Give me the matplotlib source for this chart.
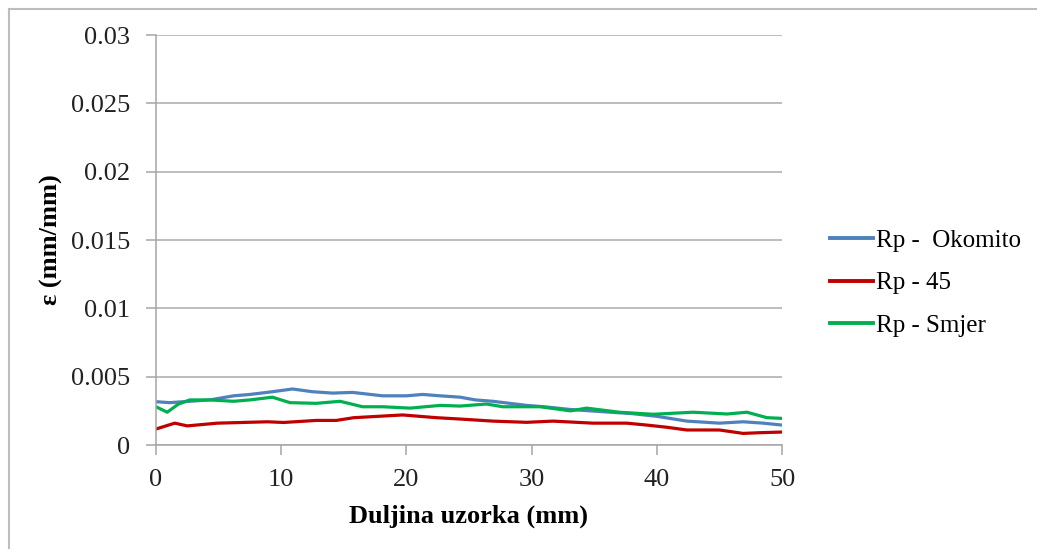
import matplotlib
matplotlib.use("Agg")
import matplotlib.pyplot as plt
from matplotlib.lines import Line2D

plt.rcParams['font.family'] = ['Liberation Serif', 'DejaVu Serif']

labels = ["Rp -  Okomito", "Rp - 45", "Rp - Smjer"]
colors = ["#4F81BD", "#C00000", "#00B050"]

x_okomito = [0, 1.1, 2.7, 4.3, 6.2, 7.5, 9.3, 10.9, 12.5, 14.1, 15.7, 18.1, 20, 21.3, 22.7,
             24.3, 25.5, 26.9, 29.6, 31, 33.1, 36.3, 38, 40, 42.4, 45, 46.9, 48.5, 50]
y_okomito = [0.00317, 0.0031, 0.0032, 0.0033, 0.0036, 0.0037, 0.0039, 0.0041, 0.0039, 0.0038,
             0.00385, 0.0036, 0.0036, 0.0037, 0.0036, 0.0035, 0.0033, 0.0032, 0.0029, 0.0028,
             0.0026, 0.0024, 0.0023, 0.0021, 0.00175, 0.0016, 0.0017, 0.0016, 0.00146]

x_45 = [0, 1.5, 2.5, 4.9, 8.9, 10.2, 12.8, 14.4, 15.8, 19.7, 22.4, 24.3, 26.9, 29.6, 31.7,
        34.9, 37.6, 39.2, 40.8, 42.4, 45, 46.9, 48.2, 50]
y_45 = [0.00117, 0.0016, 0.0014, 0.0016, 0.0017, 0.00165, 0.0018, 0.0018, 0.002, 0.0022,
        0.002, 0.0019, 0.00175, 0.00166, 0.00175, 0.0016, 0.0016, 0.00146, 0.0013, 0.0011,
        0.0011, 0.00085, 0.0009, 0.00095]

x_smjer = [0, 0.9, 1.8, 2.7, 4.3, 6.2, 7.5, 9.3, 10.7, 12.8, 14.7, 16.5, 18.1, 20.3, 22.7,
           24.3, 26.4, 27.7, 30.7, 33.1, 34.4, 37, 39.7, 42.9, 45.6, 47.2, 48.8, 50]
y_smjer = [0.0028, 0.0024, 0.0030, 0.0033, 0.0033, 0.0032, 0.0033, 0.0035, 0.0031, 0.00305,
           0.0032, 0.0028, 0.0028, 0.0027, 0.0029, 0.00285, 0.0030, 0.0028, 0.0028, 0.0025,
           0.0027, 0.0024, 0.00225, 0.0024, 0.00227, 0.0024, 0.0020, 0.00195]

xticks = [0, 10, 20, 30, 40, 50]
yticks = [0, 0.005, 0.01, 0.015, 0.02, 0.025, 0.03]
ytick_labels = ["0", "0.005", "0.01", "0.015", "0.02", "0.025", "0.03"]

fig = plt.figure(figsize=(10.37, 5.49), dpi=100)
ax = fig.add_axes([0.1504, 0.1894, 0.6037, 0.7468])

series = [(x_okomito, y_okomito), (x_45, y_45), (x_smjer, y_smjer)]
for (xs, ys), lab, c in zip(series, labels, colors):
    ax.plot(xs, ys, color=c, lw=2.3, label=lab, solid_capstyle='round')

ax.set_xlim(0, 50)
ax.set_ylim(0, 0.03)
ax.set_xticks(xticks)
ax.set_xticklabels([str(t) for t in xticks])
ax.set_yticks(yticks)
ax.set_yticklabels(ytick_labels)
ax.grid(axis='y', color='#ABABAB', lw=1.1)
ax.set_axisbelow(True)
for s in ['top', 'right']:
    ax.spines[s].set_visible(False)
for s in ['left', 'bottom']:
    ax.spines[s].set_color('#A6A6A6')
    ax.spines[s].set_linewidth(1.1)
ax.tick_params(axis='both', colors='#A6A6A6', labelcolor='#222222', labelsize=19,
               length=7, width=1.1, direction='out')
ax.tick_params(axis='y', pad=11.5)
ax.tick_params(axis='x', pad=10)

ax.set_xlabel("Duljina uzorka (mm)", fontsize=19, fontweight='bold', labelpad=10)
ax.set_ylabel("ε (mm/mm)", fontsize=19, fontweight='bold', labelpad=6)

handles = [Line2D([], [], color=c, lw=2.8) for c in colors]
fig.legend(handles, labels, loc='center left', bbox_to_anchor=(0.7787, 0.4845),
           frameon=False, fontsize=18, handlelength=1.72, handletextpad=0.12,
           labelspacing=0.8)

# outer chart border
fig.add_artist(Line2D([9/1037, 9/1037], [0, 1 - 9/549], transform=fig.transFigure,
                      color='#BDBDBD', lw=1.5))
fig.add_artist(Line2D([9/1037, 1], [1 - 9/549, 1 - 9/549], transform=fig.transFigure,
                      color='#BDBDBD', lw=1.5))

fig.savefig("out.png", dpi=100, facecolor='white')
